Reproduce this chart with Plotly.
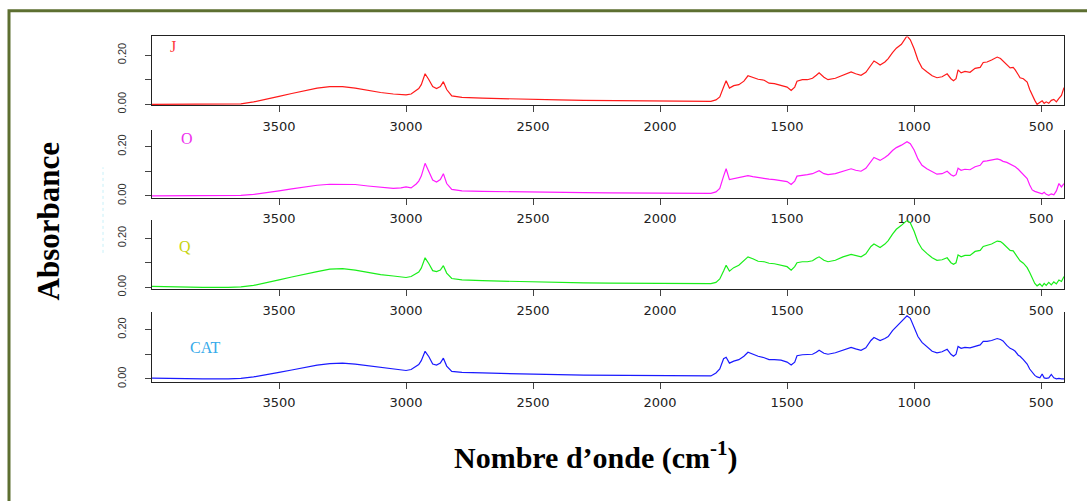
import plotly.graph_objects as go

# Wavenumbers (cm-1), shared by all spectra
wavenumber = [
    4000, 3900, 3800, 3700, 3650, 3600, 3550, 3500, 3450, 3400,
    3350, 3300, 3250, 3200, 3150, 3100, 3050, 3020, 3000, 2980,
    2960, 2950, 2940, 2925, 2910, 2895, 2880, 2865, 2853, 2840,
    2820, 2780, 2700, 2600, 2500, 2400, 2300, 2200, 2100, 2000,
    1900, 1850, 1800, 1780, 1765, 1750, 1740, 1727, 1710, 1690,
    1670, 1654, 1635, 1614, 1590, 1571, 1550, 1524, 1500, 1484,
    1470, 1461, 1440, 1420, 1400, 1385, 1374, 1355, 1339, 1310,
    1280, 1248, 1230, 1209, 1190, 1170, 1158, 1145, 1134, 1115,
    1102, 1085, 1070, 1050, 1035, 1028, 1015, 1000, 985, 969,
    950, 929, 910, 890, 870, 855, 845, 835, 827, 815,
    800, 780, 760, 740, 728, 713, 695, 673, 660, 650,
    635, 622, 610, 602, 590, 583, 570, 555, 545, 535,
    525, 516, 505, 496, 488, 480, 470, 460, 450, 440,
    430, 420, 410,
]

abs_J = [
    0.000, 0.000, 0.000, 0.000, 0.002, 0.010, 0.020, 0.032, 0.044, 0.056,
    0.066, 0.072, 0.072, 0.066, 0.056, 0.048, 0.042, 0.040, 0.038, 0.042,
    0.058, 0.064, 0.080, 0.124, 0.100, 0.072, 0.064, 0.072, 0.092, 0.060,
    0.034, 0.028, 0.025, 0.022, 0.020, 0.018, 0.016, 0.015, 0.014, 0.012,
    0.010, 0.010, 0.012, 0.018, 0.030, 0.070, 0.096, 0.066, 0.076, 0.080,
    0.094, 0.116, 0.110, 0.102, 0.098, 0.086, 0.084, 0.076, 0.070, 0.056,
    0.070, 0.094, 0.100, 0.100, 0.106, 0.118, 0.128, 0.110, 0.100, 0.106,
    0.120, 0.132, 0.124, 0.118, 0.130, 0.160, 0.176, 0.168, 0.160, 0.172,
    0.186, 0.210, 0.228, 0.244, 0.270, 0.278, 0.262, 0.226, 0.180, 0.148,
    0.132, 0.116, 0.108, 0.112, 0.124, 0.104, 0.096, 0.104, 0.140, 0.128,
    0.134, 0.130, 0.146, 0.150, 0.170, 0.172, 0.180, 0.192, 0.186, 0.176,
    0.160, 0.148, 0.150, 0.140, 0.120, 0.108, 0.104, 0.090, 0.060, 0.036,
    0.016, 0.000, 0.008, 0.014, 0.004, 0.010, 0.004, 0.016, 0.020, 0.010,
    0.024, 0.036, 0.068,
]

abs_O = [
    0.000, 0.000, 0.000, 0.000, 0.002, 0.006, 0.012, 0.020, 0.028, 0.036,
    0.043, 0.047, 0.048, 0.046, 0.040, 0.034, 0.030, 0.032, 0.036, 0.032,
    0.048, 0.060, 0.080, 0.132, 0.100, 0.064, 0.056, 0.066, 0.090, 0.050,
    0.026, 0.020, 0.018, 0.016, 0.015, 0.014, 0.013, 0.012, 0.011, 0.010,
    0.009, 0.009, 0.010, 0.016, 0.030, 0.080, 0.110, 0.066, 0.070, 0.074,
    0.078, 0.082, 0.078, 0.074, 0.072, 0.068, 0.066, 0.062, 0.058, 0.046,
    0.060, 0.080, 0.082, 0.086, 0.090, 0.096, 0.102, 0.090, 0.086, 0.090,
    0.100, 0.110, 0.104, 0.100, 0.112, 0.140, 0.156, 0.150, 0.144, 0.156,
    0.166, 0.184, 0.196, 0.206, 0.218, 0.220, 0.212, 0.186, 0.150, 0.124,
    0.110, 0.098, 0.088, 0.090, 0.100, 0.086, 0.080, 0.086, 0.112, 0.104,
    0.108, 0.106, 0.118, 0.124, 0.140, 0.142, 0.146, 0.150, 0.146, 0.140,
    0.136, 0.128, 0.124, 0.118, 0.108, 0.100, 0.088, 0.070, 0.044, 0.024,
    0.018, 0.014, 0.012, 0.008, 0.014, 0.006, 0.002, 0.008, 0.004, 0.020,
    0.050, 0.036, 0.050,
]

abs_Q = [
    0.004, 0.001, 0.000, 0.000, 0.002, 0.008, 0.018, 0.030, 0.042, 0.054,
    0.064, 0.074, 0.076, 0.070, 0.060, 0.052, 0.046, 0.042, 0.040, 0.044,
    0.056, 0.062, 0.078, 0.120, 0.096, 0.068, 0.064, 0.070, 0.088, 0.058,
    0.036, 0.030, 0.027, 0.024, 0.022, 0.020, 0.018, 0.017, 0.016, 0.015,
    0.014, 0.014, 0.015, 0.020, 0.034, 0.066, 0.090, 0.066, 0.080, 0.090,
    0.108, 0.124, 0.116, 0.106, 0.104, 0.098, 0.096, 0.090, 0.084, 0.070,
    0.084, 0.100, 0.104, 0.104, 0.108, 0.118, 0.124, 0.110, 0.104, 0.110,
    0.124, 0.134, 0.128, 0.124, 0.136, 0.166, 0.176, 0.168, 0.162, 0.176,
    0.190, 0.216, 0.236, 0.252, 0.268, 0.272, 0.262, 0.228, 0.184, 0.156,
    0.138, 0.120, 0.110, 0.112, 0.120, 0.100, 0.094, 0.100, 0.132, 0.124,
    0.130, 0.130, 0.146, 0.150, 0.166, 0.170, 0.176, 0.188, 0.186, 0.178,
    0.162, 0.150, 0.148, 0.136, 0.118, 0.108, 0.098, 0.080, 0.060, 0.040,
    0.016, 0.006, 0.014, 0.004, 0.016, 0.008, 0.020, 0.010, 0.022, 0.014,
    0.030, 0.024, 0.044,
]

abs_CAT = [
    0.003, 0.000, 0.000, 0.000, 0.002, 0.008, 0.016, 0.026, 0.036, 0.046,
    0.056, 0.062, 0.064, 0.060, 0.054, 0.046, 0.040, 0.036, 0.034, 0.038,
    0.052, 0.058, 0.074, 0.112, 0.090, 0.060, 0.056, 0.064, 0.084, 0.052,
    0.030, 0.026, 0.024, 0.021, 0.019, 0.017, 0.015, 0.014, 0.013, 0.012,
    0.010, 0.010, 0.012, 0.024, 0.040, 0.082, 0.088, 0.064, 0.072, 0.078,
    0.092, 0.108, 0.100, 0.092, 0.086, 0.078, 0.078, 0.076, 0.068, 0.056,
    0.068, 0.094, 0.098, 0.098, 0.100, 0.108, 0.116, 0.104, 0.100, 0.106,
    0.118, 0.128, 0.122, 0.116, 0.126, 0.156, 0.168, 0.160, 0.156, 0.164,
    0.172, 0.196, 0.212, 0.230, 0.250, 0.256, 0.246, 0.212, 0.172, 0.148,
    0.130, 0.112, 0.106, 0.110, 0.120, 0.100, 0.092, 0.100, 0.132, 0.124,
    0.128, 0.126, 0.132, 0.138, 0.152, 0.152, 0.156, 0.164, 0.160, 0.154,
    0.136, 0.124, 0.118, 0.112, 0.096, 0.092, 0.078, 0.060, 0.040, 0.026,
    0.014, 0.008, 0.004, 0.020, 0.004, 0.002, 0.004, 0.018, 0.004, 0.000,
    0.002, 0.000, 0.000,
]

series_names = ["J", "O", "Q", "CAT"]
series_values = [abs_J, abs_O, abs_Q, abs_CAT]
line_colors = ["#ff1a1a", "#ff1aff", "#1aee1a", "#1a1aff"]
label_colors = ["#ff3b3b", "#ee30ee", "#c8d410", "#35aaea"]

x_ticks = [3500, 3000, 2500, 2000, 1500, 1000, 500]
y_ticks = [0.0, 0.2]
y_tick_text = ["0.00", "0.20"]
y_minor_ticks = [0.1]

W, H = 1087, 501

def py(p):
    return 1 - p / H

# panel pixel extents (top, bottom) and y ranges
panels = [(37, 107, [-0.004, 0.276]),
          (132, 201, [-0.008, 0.268]),
          (224, 294, [-0.008, 0.272]),
          (317, 388, [-0.012, 0.272])]
x_dom = [152 / W, 1064 / W]

fig = go.Figure()
for i, (name, vals, col) in enumerate(zip(series_names, series_values, line_colors)):
    sfx = "" if i == 0 else str(i + 1)
    fig.add_trace(go.Scatter(x=wavenumber, y=vals, mode="lines", name=name,
                             line=dict(color=col, width=1.2),
                             xaxis="x" + sfx, yaxis="y" + sfx,
                             showlegend=False))

layout = dict(width=W, height=H, margin=dict(l=0, r=0, t=0, b=0),
              paper_bgcolor="white", plot_bgcolor="white", showlegend=False)

for i, (top, bot, yr) in enumerate(panels):
    sfx = "" if i == 0 else str(i + 1)
    layout["xaxis" + sfx] = dict(
        domain=x_dom, anchor="y" + sfx, range=[4000, 410],
        tickvals=x_ticks, ticks="outside", ticklen=6, tickcolor="#444",
        showline=True, linecolor="#222", linewidth=1,
        mirror=(i == 0), showgrid=False, zeroline=False,
        ticklabelstandoff=3,
        tickfont=dict(family="DejaVu Sans", size=13, color="#222"),
    )
    layout["yaxis" + sfx] = dict(
        domain=[py(bot), py(top)], anchor="x" + sfx, range=yr,
        tickvals=y_ticks, ticktext=y_tick_text, ticks="outside", ticklen=6,
        tickcolor="#444", tickangle=-90,
        minor=dict(tickvals=y_minor_ticks, ticks="outside", ticklen=6,
                   tickcolor="#444", showgrid=False),
        showline=True, linecolor="#222", linewidth=1, mirror=True,
        showgrid=False, zeroline=False, ticklabelstandoff=15,
        tickfont=dict(family="Liberation Sans", size=11, color="#333"),
    )

fig.update_layout(**layout)

# panel labels
label_pos = [(173, 47), (187, 141), (185, 251), (205, 353)]
for name, col, (lx, ly) in zip(series_names, label_colors, label_pos):
    fig.add_annotation(x=lx / W, y=py(ly), xref="paper", yref="paper",
                       xanchor="center", yanchor="middle",
                       text=name, showarrow=False,
                       font=dict(family="Liberation Serif", size=16, color=col))

# axis titles
fig.add_annotation(x=48 / W, y=py(225), xref="paper", yref="paper",
                   xanchor="center", yanchor="middle",
                   text="<b>Absorbance</b>", textangle=-90, showarrow=False,
                   font=dict(family="Liberation Serif", size=31, color="black"))
fig.add_annotation(x=596 / W, y=py(463), xref="paper", yref="paper",
                   xanchor="center", yanchor="middle",
                   text="<b>Nombre d’onde (cm<sup>-1</sup>)</b>", showarrow=False,
                   font=dict(family="Liberation Serif", size=30, color="black"))

# outer frame (left and top edges visible)
fig.add_shape(type="rect", xref="paper", yref="paper",
              x0=9 / W, x1=1.05, y0=-0.05, y1=py(11),
              line=dict(color="#5d6f31", width=3))
# faint cyan dotted artefact
fig.add_shape(type="line", xref="paper", yref="paper",
              x0=103 / W, x1=103 / W, y0=py(257), y1=py(170),
              line=dict(color="#c8f0f8", width=1, dash="dot"))

fig.write_html("out.html",
               config={"displayModeBar": False},
               post_script="document.body.style.margin='0px';")
